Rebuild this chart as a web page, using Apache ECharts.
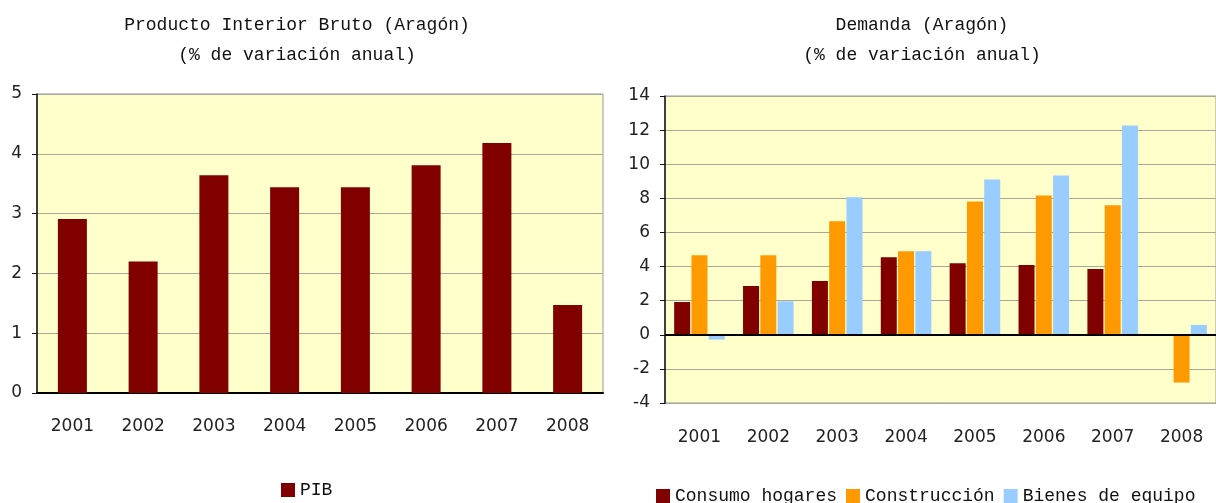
<!DOCTYPE html>
<html>
<head>
<meta charset="utf-8">
<script src="https://cdn.jsdelivr.net/npm/echarts@6/dist/echarts.min.js"></script>
<style>
  html, body { margin: 0; padding: 0; background: #fff; }
  #chart { width: 1216px; height: 503px; }
</style>
</head>
<body>
<div id="chart"></div>
<script>
// datos
const years = ["2001", "2002", "2003", "2004", "2005", "2006", "2007", "2008"];
const pib = [2.91, 2.2, 3.64, 3.44, 3.44, 3.81, 4.18, 1.47];
const consumoHogares = [1.92, 2.86, 3.15, 4.55, 4.2, 4.09, 3.85, null];
const construccion = [4.67, 4.67, 6.66, 4.9, 7.82, 8.17, 7.59, -2.8];
const bienesEquipo = [-0.28, 1.96, 8.06, 4.9, 9.11, 9.34, 12.27, 0.58];

const chart = echarts.init(document.getElementById("chart"), null, { renderer: "canvas" });

const titleFont = { fontFamily: "Liberation Mono", fontSize: 18, fontWeight: "normal", color: "#111", lineHeight: 30 };
const yFont = { fontFamily: "DejaVu Sans", fontSize: 17, color: "#222" };
const xFont = { fontFamily: "DejaVu Sans", fontSize: 17, color: "#222" };
const legendFont = { fontFamily: "Liberation Mono", fontSize: 18, color: "#111" };

const option = {
  animation: false,
  title: [
    { text: "Producto Interior Bruto (Aragón)\n(% de variación anual)", left: 292, top: 5, textAlign: "center", textStyle: titleFont },
    { text: "Demanda (Aragón)\n(% de variación anual)", left: 917, top: 5, textAlign: "center", textStyle: titleFont },
  ],
  legend: [
    {
      data: ["PIB"],
      icon: "rect",
      left: 276,
      top: 476,
      itemWidth: 14,
      itemHeight: 14,
      itemGap: 4,
      textStyle: legendFont,
    },
    {
      data: ["Consumo hogares", "Construcción", "Bienes de equipo"],
      icon: "rect",
      left: 651,
      top: 482,
      itemWidth: 14,
      itemHeight: 14,
      itemGap: 9,
      textStyle: legendFont,
    },
  ],
  grid: [
    { left: 37, top: 94, width: 566, height: 299, show: true, backgroundColor: "#FFFFCC", borderColor: "#999", borderWidth: 1 },
    { left: 665, top: 96, width: 560, height: 307, show: true, backgroundColor: "#FFFFCC", borderColor: "#999", borderWidth: 1 },
  ],
  xAxis: [
    {
      type: "category",
      gridIndex: 0,
      data: years,
      axisLine: { lineStyle: { color: "#000", width: 2 } },
      axisTick: { show: false },
      axisLabel: Object.assign({ margin: 25 }, xFont),
    },
    {
      type: "category",
      gridIndex: 1,
      data: years,
      axisLine: { show: false, onZero: false },
      axisTick: { show: false },
      axisLabel: Object.assign({ margin: 26 }, xFont),
    },
  ],
  yAxis: [
    {
      type: "value",
      gridIndex: 0,
      min: 0,
      max: 5,
      interval: 1,
      axisLine: { show: true, lineStyle: { color: "#111", width: 1.5 } },
      axisTick: { show: true, length: 5, lineStyle: { color: "#111" } },
      axisLabel: Object.assign({ margin: 15 }, yFont),
      splitLine: { lineStyle: { color: "#a8a898", width: 1.2 } },
    },
    {
      type: "value",
      gridIndex: 1,
      min: -4,
      max: 14,
      interval: 2,
      axisLine: { show: true, lineStyle: { color: "#111", width: 1.5 } },
      axisTick: { show: true, length: 5, lineStyle: { color: "#111" } },
      axisLabel: Object.assign({ margin: 15 }, yFont),
      splitLine: { lineStyle: { color: "#a8a898", width: 1.2 } },
    },
  ],
  series: [
    {
      name: "PIB",
      type: "bar",
      xAxisIndex: 0,
      yAxisIndex: 0,
      data: pib,
      barWidth: 29,
      itemStyle: { color: "#800000" },
    },
    {
      name: "Consumo hogares",
      type: "bar",
      xAxisIndex: 1,
      yAxisIndex: 1,
      data: consumoHogares,
      barWidth: 16,
      barGap: "8%",
      itemStyle: { color: "#800000" },
      markLine: {
        silent: true,
        symbol: "none",
        label: { show: false },
        lineStyle: { color: "#000", width: 2, type: "solid" },
        data: [{ yAxis: 0 }],
      },
    },
    {
      name: "Construcción",
      type: "bar",
      xAxisIndex: 1,
      yAxisIndex: 1,
      data: construccion,
      barWidth: 16,
      barGap: "8%",
      itemStyle: { color: "#FF9900" },
    },
    {
      name: "Bienes de equipo",
      type: "bar",
      xAxisIndex: 1,
      yAxisIndex: 1,
      data: bienesEquipo,
      barWidth: 16,
      barGap: "8%",
      itemStyle: { color: "#99CCFF" },
    },
  ],
};

chart.setOption(option);
</script>
</body>
</html>
